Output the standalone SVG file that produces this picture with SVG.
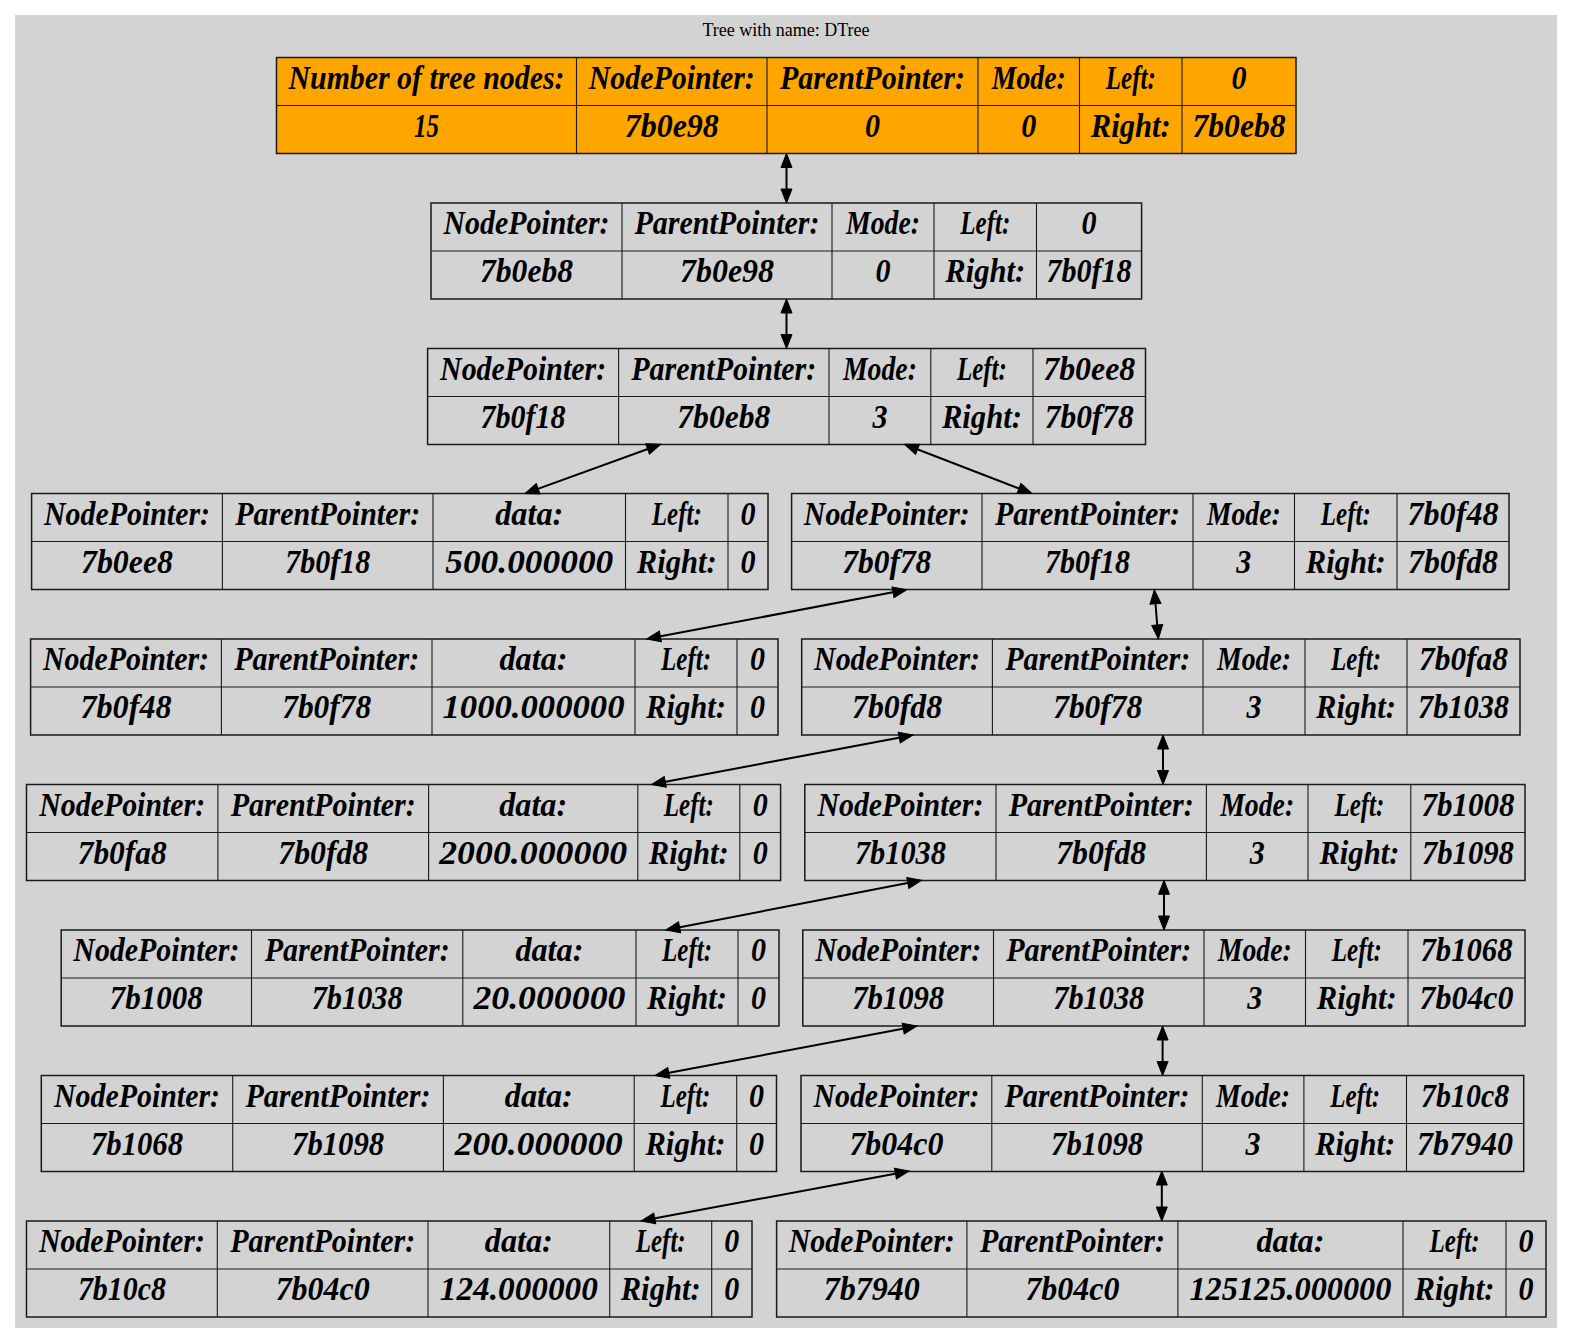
<svg xmlns="http://www.w3.org/2000/svg" width="1573" height="1344" viewBox="0 0 1573 1344">
  <style>
    .bg { fill: #d3d3d3; }
    .frame { fill: none; stroke: #1a1a1a; stroke-width: 1.5; }
    .frame.root { fill: #ffa500; }
    .grid { fill: none; stroke: #1a1a1a; stroke-width: 1.1; }
    .t { font-family: 'Liberation Serif', serif; font-style: italic; font-weight: bold; font-size: 34px; text-anchor: middle; fill: #000; }
    .title { font-family: 'Liberation Serif', 'Times New Roman', serif; font-size: 18px; text-anchor: middle; fill: #000; }
    .edge { fill: none; stroke: #000; stroke-width: 2; marker-start: url(#ah); marker-end: url(#ah); }
  </style>
  <defs>
    <marker id="ah" markerUnits="userSpaceOnUse" markerWidth="15" markerHeight="12" refX="1" refY="5.5" orient="auto-start-reverse" viewBox="0 0 15 11" overflow="visible">
      <path d="M0,0 L14,5.5 L0,11 Z" fill="#000" stroke="#000" stroke-width="1"/>
    </marker>
  </defs>

  <rect class="bg" x="15" y="15" width="1542" height="1313"/>
  <text class="title" x="786" y="35.5">Tree with name: DTree</text>

  <!-- header: tree summary -->
  <g id="tree_info">
    <rect class="frame root" x="276.5" y="57.5" width="1019.5" height="96"/>
    <path class="grid" d="M276.5,105.5 H1296 M576.5,57.5 V153.5 M767,57.5 V153.5 M978,57.5 V153.5 M1079.5,57.5 V153.5 M1182,57.5 V153.5"/>
    <text class="t" x="426.5" y="88.5" textLength="276" lengthAdjust="spacingAndGlyphs">Number of tree nodes:</text>
    <text class="t" x="671.75" y="88.5" textLength="166" lengthAdjust="spacingAndGlyphs">NodePointer:</text>
    <text class="t" x="872.5" y="88.5" textLength="185" lengthAdjust="spacingAndGlyphs">ParentPointer:</text>
    <text class="t" x="1028.75" y="88.5" textLength="74" lengthAdjust="spacingAndGlyphs">Mode:</text>
    <text class="t" x="1130.75" y="88.5" textLength="50" lengthAdjust="spacingAndGlyphs">Left:</text>
    <text class="t" x="1239" y="88.5" textLength="15" lengthAdjust="spacingAndGlyphs">0</text>
    <text class="t" x="426.5" y="136.5" textLength="25" lengthAdjust="spacingAndGlyphs">15</text>
    <text class="t" x="671.75" y="136.5" textLength="94" lengthAdjust="spacingAndGlyphs">7b0e98</text>
    <text class="t" x="872.5" y="136.5" textLength="15" lengthAdjust="spacingAndGlyphs">0</text>
    <text class="t" x="1028.75" y="136.5" textLength="15" lengthAdjust="spacingAndGlyphs">0</text>
    <text class="t" x="1130.75" y="136.5" textLength="80" lengthAdjust="spacingAndGlyphs">Right:</text>
    <text class="t" x="1239" y="136.5" textLength="93" lengthAdjust="spacingAndGlyphs">7b0eb8</text>
  </g>

  <!-- node 7b0eb8 -->
  <g id="node_7b0eb8">
    <rect class="frame" x="431" y="203" width="710.6" height="96"/>
    <path class="grid" d="M431,251 H1141.6 M622,203 V299 M832,203 V299 M934,203 V299 M1036.5,203 V299"/>
    <text class="t" x="526.5" y="234" textLength="166" lengthAdjust="spacingAndGlyphs">NodePointer:</text>
    <text class="t" x="727" y="234" textLength="185" lengthAdjust="spacingAndGlyphs">ParentPointer:</text>
    <text class="t" x="883" y="234" textLength="74" lengthAdjust="spacingAndGlyphs">Mode:</text>
    <text class="t" x="985.25" y="234" textLength="50" lengthAdjust="spacingAndGlyphs">Left:</text>
    <text class="t" x="1089.05" y="234" textLength="15" lengthAdjust="spacingAndGlyphs">0</text>
    <text class="t" x="526.5" y="282" textLength="93" lengthAdjust="spacingAndGlyphs">7b0eb8</text>
    <text class="t" x="727" y="282" textLength="94" lengthAdjust="spacingAndGlyphs">7b0e98</text>
    <text class="t" x="883" y="282" textLength="15" lengthAdjust="spacingAndGlyphs">0</text>
    <text class="t" x="985.25" y="282" textLength="80" lengthAdjust="spacingAndGlyphs">Right:</text>
    <text class="t" x="1089.05" y="282" textLength="85" lengthAdjust="spacingAndGlyphs">7b0f18</text>
  </g>

  <!-- node 7b0f18 -->
  <g id="node_7b0f18">
    <rect class="frame" x="427.6" y="348.5" width="717.9" height="96"/>
    <path class="grid" d="M427.6,396.5 H1145.5 M618.6,348.5 V444.5 M829,348.5 V444.5 M930.8,348.5 V444.5 M1033,348.5 V444.5"/>
    <text class="t" x="523.1" y="379.5" textLength="166" lengthAdjust="spacingAndGlyphs">NodePointer:</text>
    <text class="t" x="723.8" y="379.5" textLength="185" lengthAdjust="spacingAndGlyphs">ParentPointer:</text>
    <text class="t" x="879.9" y="379.5" textLength="74" lengthAdjust="spacingAndGlyphs">Mode:</text>
    <text class="t" x="981.9" y="379.5" textLength="50" lengthAdjust="spacingAndGlyphs">Left:</text>
    <text class="t" x="1089.25" y="379.5" textLength="92" lengthAdjust="spacingAndGlyphs">7b0ee8</text>
    <text class="t" x="523.1" y="427.5" textLength="85" lengthAdjust="spacingAndGlyphs">7b0f18</text>
    <text class="t" x="723.8" y="427.5" textLength="93" lengthAdjust="spacingAndGlyphs">7b0eb8</text>
    <text class="t" x="879.9" y="427.5" textLength="15" lengthAdjust="spacingAndGlyphs">3</text>
    <text class="t" x="981.9" y="427.5" textLength="80" lengthAdjust="spacingAndGlyphs">Right:</text>
    <text class="t" x="1089.25" y="427.5" textLength="89" lengthAdjust="spacingAndGlyphs">7b0f78</text>
  </g>

  <!-- leaf 7b0ee8 -->
  <g id="node_7b0ee8">
    <rect class="frame" x="31.6" y="493.5" width="736.4" height="96"/>
    <path class="grid" d="M31.6,541.5 H768 M222.4,493.5 V589.5 M433,493.5 V589.5 M625.5,493.5 V589.5 M728,493.5 V589.5"/>
    <text class="t" x="127" y="524.5" textLength="166" lengthAdjust="spacingAndGlyphs">NodePointer:</text>
    <text class="t" x="327.7" y="524.5" textLength="185" lengthAdjust="spacingAndGlyphs">ParentPointer:</text>
    <text class="t" x="529.25" y="524.5" textLength="68" lengthAdjust="spacingAndGlyphs">data:</text>
    <text class="t" x="676.75" y="524.5" textLength="50" lengthAdjust="spacingAndGlyphs">Left:</text>
    <text class="t" x="748" y="524.5" textLength="15" lengthAdjust="spacingAndGlyphs">0</text>
    <text class="t" x="127" y="572.5" textLength="92" lengthAdjust="spacingAndGlyphs">7b0ee8</text>
    <text class="t" x="327.7" y="572.5" textLength="85" lengthAdjust="spacingAndGlyphs">7b0f18</text>
    <text class="t" x="529.25" y="572.5" textLength="168" lengthAdjust="spacingAndGlyphs">500.000000</text>
    <text class="t" x="676.75" y="572.5" textLength="80" lengthAdjust="spacingAndGlyphs">Right:</text>
    <text class="t" x="748" y="572.5" textLength="15" lengthAdjust="spacingAndGlyphs">0</text>
  </g>

  <!-- node 7b0f78 -->
  <g id="node_7b0f78">
    <rect class="frame" x="791.6" y="493.5" width="717.4" height="96"/>
    <path class="grid" d="M791.6,541.5 H1509 M982,493.5 V589.5 M1193,493.5 V589.5 M1294.5,493.5 V589.5 M1397,493.5 V589.5"/>
    <text class="t" x="886.8" y="524.5" textLength="166" lengthAdjust="spacingAndGlyphs">NodePointer:</text>
    <text class="t" x="1087.5" y="524.5" textLength="185" lengthAdjust="spacingAndGlyphs">ParentPointer:</text>
    <text class="t" x="1243.75" y="524.5" textLength="74" lengthAdjust="spacingAndGlyphs">Mode:</text>
    <text class="t" x="1345.75" y="524.5" textLength="50" lengthAdjust="spacingAndGlyphs">Left:</text>
    <text class="t" x="1453" y="524.5" textLength="91" lengthAdjust="spacingAndGlyphs">7b0f48</text>
    <text class="t" x="886.8" y="572.5" textLength="89" lengthAdjust="spacingAndGlyphs">7b0f78</text>
    <text class="t" x="1087.5" y="572.5" textLength="85" lengthAdjust="spacingAndGlyphs">7b0f18</text>
    <text class="t" x="1243.75" y="572.5" textLength="15" lengthAdjust="spacingAndGlyphs">3</text>
    <text class="t" x="1345.75" y="572.5" textLength="80" lengthAdjust="spacingAndGlyphs">Right:</text>
    <text class="t" x="1453" y="572.5" textLength="90" lengthAdjust="spacingAndGlyphs">7b0fd8</text>
  </g>

  <!-- leaf 7b0f48 -->
  <g id="node_7b0f48">
    <rect class="frame" x="30.6" y="639" width="747.4" height="96"/>
    <path class="grid" d="M30.6,687 H778 M221.4,639 V735 M432,639 V735 M635,639 V735 M737,639 V735"/>
    <text class="t" x="126" y="670" textLength="166" lengthAdjust="spacingAndGlyphs">NodePointer:</text>
    <text class="t" x="326.7" y="670" textLength="185" lengthAdjust="spacingAndGlyphs">ParentPointer:</text>
    <text class="t" x="533.5" y="670" textLength="68" lengthAdjust="spacingAndGlyphs">data:</text>
    <text class="t" x="686" y="670" textLength="50" lengthAdjust="spacingAndGlyphs">Left:</text>
    <text class="t" x="757.5" y="670" textLength="15" lengthAdjust="spacingAndGlyphs">0</text>
    <text class="t" x="126" y="718" textLength="91" lengthAdjust="spacingAndGlyphs">7b0f48</text>
    <text class="t" x="326.7" y="718" textLength="89" lengthAdjust="spacingAndGlyphs">7b0f78</text>
    <text class="t" x="533.5" y="718" textLength="182" lengthAdjust="spacingAndGlyphs">1000.000000</text>
    <text class="t" x="686" y="718" textLength="80" lengthAdjust="spacingAndGlyphs">Right:</text>
    <text class="t" x="757.5" y="718" textLength="15" lengthAdjust="spacingAndGlyphs">0</text>
  </g>

  <!-- node 7b0fd8 -->
  <g id="node_7b0fd8">
    <rect class="frame" x="801.7" y="639" width="718.3" height="96"/>
    <path class="grid" d="M801.7,687 H1520 M992.4,639 V735 M1203,639 V735 M1305,639 V735 M1407,639 V735"/>
    <text class="t" x="897.05" y="670" textLength="166" lengthAdjust="spacingAndGlyphs">NodePointer:</text>
    <text class="t" x="1097.7" y="670" textLength="185" lengthAdjust="spacingAndGlyphs">ParentPointer:</text>
    <text class="t" x="1254" y="670" textLength="74" lengthAdjust="spacingAndGlyphs">Mode:</text>
    <text class="t" x="1356" y="670" textLength="50" lengthAdjust="spacingAndGlyphs">Left:</text>
    <text class="t" x="1463.5" y="670" textLength="89" lengthAdjust="spacingAndGlyphs">7b0fa8</text>
    <text class="t" x="897.05" y="718" textLength="90" lengthAdjust="spacingAndGlyphs">7b0fd8</text>
    <text class="t" x="1097.7" y="718" textLength="89" lengthAdjust="spacingAndGlyphs">7b0f78</text>
    <text class="t" x="1254" y="718" textLength="15" lengthAdjust="spacingAndGlyphs">3</text>
    <text class="t" x="1356" y="718" textLength="80" lengthAdjust="spacingAndGlyphs">Right:</text>
    <text class="t" x="1463.5" y="718" textLength="91" lengthAdjust="spacingAndGlyphs">7b1038</text>
  </g>

  <!-- leaf 7b0fa8 -->
  <g id="node_7b0fa8">
    <rect class="frame" x="26.5" y="784.5" width="754.1" height="96"/>
    <path class="grid" d="M26.5,832.5 H780.6 M217.9,784.5 V880.5 M428.6,784.5 V880.5 M637.8,784.5 V880.5 M739.8,784.5 V880.5"/>
    <text class="t" x="122.2" y="815.5" textLength="166" lengthAdjust="spacingAndGlyphs">NodePointer:</text>
    <text class="t" x="323.25" y="815.5" textLength="185" lengthAdjust="spacingAndGlyphs">ParentPointer:</text>
    <text class="t" x="533.2" y="815.5" textLength="68" lengthAdjust="spacingAndGlyphs">data:</text>
    <text class="t" x="688.8" y="815.5" textLength="50" lengthAdjust="spacingAndGlyphs">Left:</text>
    <text class="t" x="760.2" y="815.5" textLength="15" lengthAdjust="spacingAndGlyphs">0</text>
    <text class="t" x="122.2" y="863.5" textLength="89" lengthAdjust="spacingAndGlyphs">7b0fa8</text>
    <text class="t" x="323.25" y="863.5" textLength="90" lengthAdjust="spacingAndGlyphs">7b0fd8</text>
    <text class="t" x="533.2" y="863.5" textLength="188" lengthAdjust="spacingAndGlyphs">2000.000000</text>
    <text class="t" x="688.8" y="863.5" textLength="80" lengthAdjust="spacingAndGlyphs">Right:</text>
    <text class="t" x="760.2" y="863.5" textLength="15" lengthAdjust="spacingAndGlyphs">0</text>
  </g>

  <!-- node 7b1038 -->
  <g id="node_7b1038">
    <rect class="frame" x="804.8" y="784.5" width="720.2" height="96"/>
    <path class="grid" d="M804.8,832.5 H1525 M996,784.5 V880.5 M1206.4,784.5 V880.5 M1308,784.5 V880.5 M1410.8,784.5 V880.5"/>
    <text class="t" x="900.4" y="815.5" textLength="166" lengthAdjust="spacingAndGlyphs">NodePointer:</text>
    <text class="t" x="1101.2" y="815.5" textLength="185" lengthAdjust="spacingAndGlyphs">ParentPointer:</text>
    <text class="t" x="1257.2" y="815.5" textLength="74" lengthAdjust="spacingAndGlyphs">Mode:</text>
    <text class="t" x="1359.4" y="815.5" textLength="50" lengthAdjust="spacingAndGlyphs">Left:</text>
    <text class="t" x="1467.9" y="815.5" textLength="93" lengthAdjust="spacingAndGlyphs">7b1008</text>
    <text class="t" x="900.4" y="863.5" textLength="91" lengthAdjust="spacingAndGlyphs">7b1038</text>
    <text class="t" x="1101.2" y="863.5" textLength="90" lengthAdjust="spacingAndGlyphs">7b0fd8</text>
    <text class="t" x="1257.2" y="863.5" textLength="15" lengthAdjust="spacingAndGlyphs">3</text>
    <text class="t" x="1359.4" y="863.5" textLength="80" lengthAdjust="spacingAndGlyphs">Right:</text>
    <text class="t" x="1467.9" y="863.5" textLength="92" lengthAdjust="spacingAndGlyphs">7b1098</text>
  </g>

  <!-- leaf 7b1008 -->
  <g id="node_7b1008">
    <rect class="frame" x="61.2" y="930" width="717.8" height="96"/>
    <path class="grid" d="M61.2,978 H779 M251.5,930 V1026 M462.8,930 V1026 M636,930 V1026 M738,930 V1026"/>
    <text class="t" x="156.35" y="961" textLength="166" lengthAdjust="spacingAndGlyphs">NodePointer:</text>
    <text class="t" x="357.15" y="961" textLength="185" lengthAdjust="spacingAndGlyphs">ParentPointer:</text>
    <text class="t" x="549.4" y="961" textLength="68" lengthAdjust="spacingAndGlyphs">data:</text>
    <text class="t" x="687" y="961" textLength="50" lengthAdjust="spacingAndGlyphs">Left:</text>
    <text class="t" x="758.5" y="961" textLength="15" lengthAdjust="spacingAndGlyphs">0</text>
    <text class="t" x="156.35" y="1009" textLength="93" lengthAdjust="spacingAndGlyphs">7b1008</text>
    <text class="t" x="357.15" y="1009" textLength="91" lengthAdjust="spacingAndGlyphs">7b1038</text>
    <text class="t" x="549.4" y="1009" textLength="152" lengthAdjust="spacingAndGlyphs">20.000000</text>
    <text class="t" x="687" y="1009" textLength="80" lengthAdjust="spacingAndGlyphs">Right:</text>
    <text class="t" x="758.5" y="1009" textLength="15" lengthAdjust="spacingAndGlyphs">0</text>
  </g>

  <!-- node 7b1098 -->
  <g id="node_7b1098">
    <rect class="frame" x="802.8" y="930" width="722.2" height="96"/>
    <path class="grid" d="M802.8,978 H1525 M993.5,930 V1026 M1204,930 V1026 M1305.5,930 V1026 M1408,930 V1026"/>
    <text class="t" x="898.15" y="961" textLength="166" lengthAdjust="spacingAndGlyphs">NodePointer:</text>
    <text class="t" x="1098.75" y="961" textLength="185" lengthAdjust="spacingAndGlyphs">ParentPointer:</text>
    <text class="t" x="1254.75" y="961" textLength="74" lengthAdjust="spacingAndGlyphs">Mode:</text>
    <text class="t" x="1356.75" y="961" textLength="50" lengthAdjust="spacingAndGlyphs">Left:</text>
    <text class="t" x="1466.5" y="961" textLength="92" lengthAdjust="spacingAndGlyphs">7b1068</text>
    <text class="t" x="898.15" y="1009" textLength="92" lengthAdjust="spacingAndGlyphs">7b1098</text>
    <text class="t" x="1098.75" y="1009" textLength="91" lengthAdjust="spacingAndGlyphs">7b1038</text>
    <text class="t" x="1254.75" y="1009" textLength="15" lengthAdjust="spacingAndGlyphs">3</text>
    <text class="t" x="1356.75" y="1009" textLength="80" lengthAdjust="spacingAndGlyphs">Right:</text>
    <text class="t" x="1466.5" y="1009" textLength="94" lengthAdjust="spacingAndGlyphs">7b04c0</text>
  </g>

  <!-- leaf 7b1068 -->
  <g id="node_7b1068">
    <rect class="frame" x="41.3" y="1075.5" width="735.2" height="96"/>
    <path class="grid" d="M41.3,1123.5 H776.5 M232.7,1075.5 V1171.5 M443.4,1075.5 V1171.5 M634.2,1075.5 V1171.5 M736.7,1075.5 V1171.5"/>
    <text class="t" x="137" y="1106.5" textLength="166" lengthAdjust="spacingAndGlyphs">NodePointer:</text>
    <text class="t" x="338.05" y="1106.5" textLength="185" lengthAdjust="spacingAndGlyphs">ParentPointer:</text>
    <text class="t" x="538.8" y="1106.5" textLength="68" lengthAdjust="spacingAndGlyphs">data:</text>
    <text class="t" x="685.45" y="1106.5" textLength="50" lengthAdjust="spacingAndGlyphs">Left:</text>
    <text class="t" x="756.6" y="1106.5" textLength="15" lengthAdjust="spacingAndGlyphs">0</text>
    <text class="t" x="137" y="1154.5" textLength="92" lengthAdjust="spacingAndGlyphs">7b1068</text>
    <text class="t" x="338.05" y="1154.5" textLength="92" lengthAdjust="spacingAndGlyphs">7b1098</text>
    <text class="t" x="538.8" y="1154.5" textLength="168" lengthAdjust="spacingAndGlyphs">200.000000</text>
    <text class="t" x="685.45" y="1154.5" textLength="80" lengthAdjust="spacingAndGlyphs">Right:</text>
    <text class="t" x="756.6" y="1154.5" textLength="15" lengthAdjust="spacingAndGlyphs">0</text>
  </g>

  <!-- node 7b04c0 -->
  <g id="node_7b04c0">
    <rect class="frame" x="801" y="1075.5" width="722.7" height="96"/>
    <path class="grid" d="M801,1123.5 H1523.7 M991.8,1075.5 V1171.5 M1202.3,1075.5 V1171.5 M1303.9,1075.5 V1171.5 M1406.5,1075.5 V1171.5"/>
    <text class="t" x="896.4" y="1106.5" textLength="166" lengthAdjust="spacingAndGlyphs">NodePointer:</text>
    <text class="t" x="1097.05" y="1106.5" textLength="185" lengthAdjust="spacingAndGlyphs">ParentPointer:</text>
    <text class="t" x="1253.1" y="1106.5" textLength="74" lengthAdjust="spacingAndGlyphs">Mode:</text>
    <text class="t" x="1355.2" y="1106.5" textLength="50" lengthAdjust="spacingAndGlyphs">Left:</text>
    <text class="t" x="1465.1" y="1106.5" textLength="88" lengthAdjust="spacingAndGlyphs">7b10c8</text>
    <text class="t" x="896.4" y="1154.5" textLength="94" lengthAdjust="spacingAndGlyphs">7b04c0</text>
    <text class="t" x="1097.05" y="1154.5" textLength="92" lengthAdjust="spacingAndGlyphs">7b1098</text>
    <text class="t" x="1253.1" y="1154.5" textLength="15" lengthAdjust="spacingAndGlyphs">3</text>
    <text class="t" x="1355.2" y="1154.5" textLength="80" lengthAdjust="spacingAndGlyphs">Right:</text>
    <text class="t" x="1465.1" y="1154.5" textLength="96" lengthAdjust="spacingAndGlyphs">7b7940</text>
  </g>

  <!-- leaf 7b10c8 -->
  <g id="node_7b10c8">
    <rect class="frame" x="26.5" y="1221" width="725.5" height="96"/>
    <path class="grid" d="M26.5,1269 H752 M217.3,1221 V1317 M428,1221 V1317 M609.7,1221 V1317 M711.7,1221 V1317"/>
    <text class="t" x="121.9" y="1252" textLength="166" lengthAdjust="spacingAndGlyphs">NodePointer:</text>
    <text class="t" x="322.65" y="1252" textLength="185" lengthAdjust="spacingAndGlyphs">ParentPointer:</text>
    <text class="t" x="518.85" y="1252" textLength="68" lengthAdjust="spacingAndGlyphs">data:</text>
    <text class="t" x="660.7" y="1252" textLength="50" lengthAdjust="spacingAndGlyphs">Left:</text>
    <text class="t" x="731.85" y="1252" textLength="15" lengthAdjust="spacingAndGlyphs">0</text>
    <text class="t" x="121.9" y="1300" textLength="88" lengthAdjust="spacingAndGlyphs">7b10c8</text>
    <text class="t" x="322.65" y="1300" textLength="94" lengthAdjust="spacingAndGlyphs">7b04c0</text>
    <text class="t" x="518.85" y="1300" textLength="158" lengthAdjust="spacingAndGlyphs">124.000000</text>
    <text class="t" x="660.7" y="1300" textLength="80" lengthAdjust="spacingAndGlyphs">Right:</text>
    <text class="t" x="731.85" y="1300" textLength="15" lengthAdjust="spacingAndGlyphs">0</text>
  </g>

  <!-- leaf 7b7940 -->
  <g id="node_7b7940">
    <rect class="frame" x="776.6" y="1221" width="769.4" height="96"/>
    <path class="grid" d="M776.6,1269 H1546 M966.9,1221 V1317 M1177.9,1221 V1317 M1403,1221 V1317 M1506,1221 V1317"/>
    <text class="t" x="871.75" y="1252" textLength="166" lengthAdjust="spacingAndGlyphs">NodePointer:</text>
    <text class="t" x="1072.4" y="1252" textLength="185" lengthAdjust="spacingAndGlyphs">ParentPointer:</text>
    <text class="t" x="1290.45" y="1252" textLength="68" lengthAdjust="spacingAndGlyphs">data:</text>
    <text class="t" x="1454.5" y="1252" textLength="50" lengthAdjust="spacingAndGlyphs">Left:</text>
    <text class="t" x="1526" y="1252" textLength="15" lengthAdjust="spacingAndGlyphs">0</text>
    <text class="t" x="871.75" y="1300" textLength="96" lengthAdjust="spacingAndGlyphs">7b7940</text>
    <text class="t" x="1072.4" y="1300" textLength="94" lengthAdjust="spacingAndGlyphs">7b04c0</text>
    <text class="t" x="1290.45" y="1300" textLength="202" lengthAdjust="spacingAndGlyphs">125125.000000</text>
    <text class="t" x="1454.5" y="1300" textLength="80" lengthAdjust="spacingAndGlyphs">Right:</text>
    <text class="t" x="1526" y="1300" textLength="15" lengthAdjust="spacingAndGlyphs">0</text>
  </g>

  <!-- parent/child links, arrowheads at both ends -->
  <g id="edges">
    <path class="edge" d="M786.5,166.5 L786.5,190"/>
    <path class="edge" d="M786.5,312 L786.5,335.5"/>
    <path class="edge" d="M648.5,448.7 L537.2,489.1"/>
    <path class="edge" d="M916.6,449 L1019.9,488.8"/>
    <path class="edge" d="M894,592.1 L659.4,636.6"/>
    <path class="edge" d="M1155.4,602.7 L1157.3,626"/>
    <path class="edge" d="M900.2,737.4 L664.3,782.1"/>
    <path class="edge" d="M1163,748 L1163,771.5"/>
    <path class="edge" d="M908.8,882.8 L678.6,927.5"/>
    <path class="edge" d="M1164,893.3 L1164,917"/>
    <path class="edge" d="M904.2,1028.4 L667.8,1073.1"/>
    <path class="edge" d="M1162.6,1039 L1162.6,1062.5"/>
    <path class="edge" d="M896.4,1173.4 L653.8,1218.6"/>
    <path class="edge" d="M1161.8,1184 L1161.8,1208"/>
  </g>
</svg>
